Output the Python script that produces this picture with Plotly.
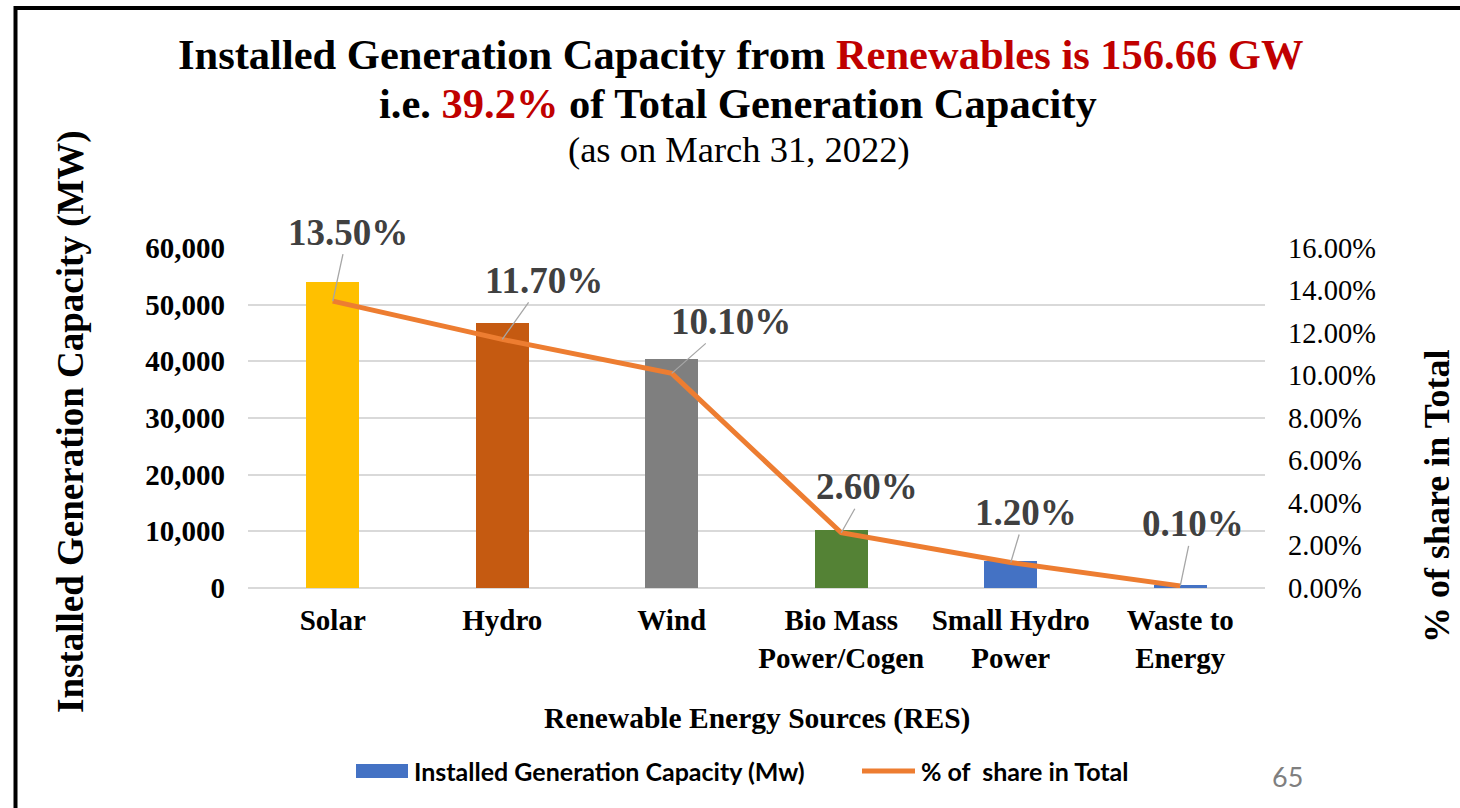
import plotly.graph_objects as go

# ---- data ----
categories = ["Solar", "Hydro", "Wind", "Bio Mass<br>Power/Cogen", "Small Hydro<br>Power", "Waste to<br>Energy"]
capacity_mw = [53997, 46723, 40358, 10206, 4849, 477]
share_pct = [13.5, 11.7, 10.1, 2.6, 1.2, 0.1]
share_labels = ["13.50%", "11.70%", "10.10%", "2.60%", "1.20%", "0.10%"]
left_ticks = [0, 10000, 20000, 30000, 40000, 50000, 60000]
right_ticks = [0, 2, 4, 6, 8, 10, 12, 14, 16]

# ---- styles ----
bar_colors = ["#FFC000", "#C55A11", "#7F7F7F", "#548235", "#4472C4", "#4472C4"]
label_offsets = [(15, -69), (42, -59), (59, -52), (26, -46), (15, -50), (13, -62)]

W, H = 1460, 808
SERIF = "Liberation Serif, Times New Roman, serif"
SANS = "Lato, Carlito, Calibri, sans-serif"


def px(x):
    return x / W


def py(y):
    return 1 - y / H


fig = go.Figure()
fig.add_trace(go.Bar(
    x=categories, y=capacity_mw, marker=dict(color=bar_colors, line=dict(width=0)),
    width=0.31, name="Installed Generation Capacity (Mw)", yaxis="y",
))
fig.add_trace(go.Scatter(
    x=categories, y=[v / 100 for v in share_pct], mode="lines",
    line=dict(color="#ED7D31", width=5), name="% of  share in Total", yaxis="y2",
))

annotations = []
# data labels with leader lines
for cat, v, lab, (ax, ay) in zip(categories, share_pct, share_labels, label_offsets):
    annotations.append(dict(
        x=cat, y=v / 100, xref="x", yref="y2", text=lab, showarrow=True,
        arrowhead=0, arrowwidth=1.3, arrowcolor="#A6A6A6", standoff=0,
        ax=ax, ay=ay, font=dict(family=SERIF, size=37, color="#404040", weight="bold"),
    ))


def note(x, y, text, font, **kw):
    d = dict(x=px(x), y=py(y), xref="paper", yref="paper", showarrow=False,
             xanchor="center", yanchor="middle", text=text, font=font)
    d.update(kw)
    return d


annotations += [
    note(740, 54, 'Installed Generation Capacity from <span style="color:#C00000">Renewables is 156.66 GW</span>',
         dict(family=SERIF, size=42.5, color="black", weight="bold")),
    note(738, 103, 'i.e. <span style="color:#C00000">39.2%</span> of Total Generation Capacity',
         dict(family=SERIF, size=42.5, color="black", weight="bold")),
    note(739, 150, "(as on March 31, 2022)", dict(family=SERIF, size=36.5, color="black")),
    # axis titles
    note(71, 422, "Installed Generation Capacity (MW)",
         dict(family=SERIF, size=37, color="black", weight="bold"), textangle=-90),
    note(1437, 497, "% of share in Total",
         dict(family=SERIF, size=36, color="black", weight="bold"), textangle=-90),
    note(757, 718, "Renewable Energy Sources (RES)",
         dict(family=SERIF, size=29.5, color="black", weight="bold")),
    # legend texts
    note(412, 771, "Installed Generation Capacity (Mw)",
         dict(family=SANS, size=25, color="black", weight="bold"), xanchor="left"),
    note(919, 771, "% of  share in Total",
         dict(family=SANS, size=25, color="black", weight="bold"), xanchor="left"),
    # page number
    note(1287, 776, "65", dict(family=SANS, size=27, color="#7F7F7F")),
]

shapes = [
    # legend swatches
    dict(type="rect", xref="paper", yref="paper", x0=px(356), x1=px(408), y0=py(778), y1=py(764),
         fillcolor="#4472C4", line=dict(width=0)),
    dict(type="line", xref="paper", yref="paper", x0=px(862), x1=px(915), y0=py(771), y1=py(771),
         line=dict(color="#ED7D31", width=5)),
    # slide frame
    dict(type="line", xref="paper", yref="paper", x0=px(14), x1=1, y0=py(8), y1=py(8),
         line=dict(color="black", width=4)),
    dict(type="line", xref="paper", yref="paper", x0=px(15.5), x1=px(15.5), y0=py(6), y1=0,
         line=dict(color="black", width=4)),
]

fig.update_layout(
    width=W, height=H,
    margin=dict(l=0, r=0, t=0, b=0, autoexpand=False),
    paper_bgcolor="white", plot_bgcolor="white",
    showlegend=False, bargap=0,
    annotations=annotations, shapes=shapes,
    xaxis=dict(
        domain=[px(248), px(1265)], showgrid=False, showline=False, zeroline=False,
        automargin=False, tickangle=0,
        tickfont=dict(family=SERIF, size=29, color="black", weight="bold"),
        ticklabelstandoff=12,
    ),
    yaxis=dict(
        domain=[py(588), py(248)], range=[0, 60000], tickvals=left_ticks,
        tickformat=",", showgrid=True, gridcolor="#D9D9D9", gridwidth=1.5,
        zeroline=True, zerolinecolor="#D9D9D9", zerolinewidth=1.5, showline=False,
        automargin=False,
        tickfont=dict(family=SERIF, size=29, color="black", weight="bold"),
        ticklabelstandoff=22,
    ),
    yaxis2=dict(
        domain=[py(588), py(248)], overlaying="y", side="right", anchor="x",
        range=[0, 0.16], tickvals=[t / 100 for t in right_ticks], tickformat=".2%",
        showgrid=False, zeroline=False, showline=False, automargin=False,
        tickfont=dict(family=SERIF, size=28.5, color="black"),
        ticklabelstandoff=22,
    ),
)

fig.write_html(
    "out.html",
    config={"displayModeBar": False},
    post_script="document.body.style.margin='0px';document.body.style.overflow='hidden';",
)
